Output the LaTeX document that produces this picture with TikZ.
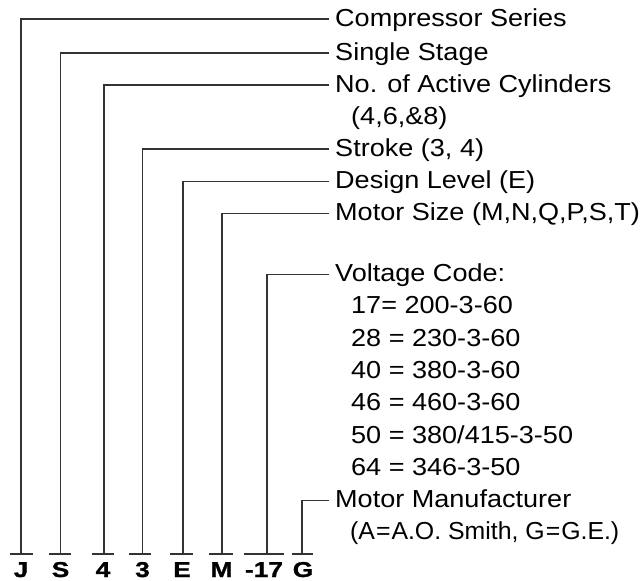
\documentclass[tikz,border=0pt]{standalone}
\usepackage{fontspec}
\setmainfont{Liberation Sans}
\newfontfamily\labfont{Liberation Sans}[FakeStretch=1.1]
\newfontfamily\narrowfont{Liberation Sans}[FakeStretch=1.01]
\newfontfamily\codefont{Liberation Sans Bold}[FakeStretch=1.22,FakeBold=1.2]
\begin{document}
\begin{tikzpicture}[x=1pt,y=-1pt,
  lab/.style={anchor=base west,inner xsep=6pt,inner ysep=0pt,font=\labfont\fontsize{24.6}{28}\selectfont},
  sub/.style={anchor=base west,inner sep=0pt,font=\labfont\fontsize{24.6}{28}\selectfont},
  subnarrow/.style={anchor=base west,inner sep=0pt,font=\narrowfont\fontsize{24.6}{28}\selectfont},
  code/.style={anchor=base,inner sep=0pt,font=\codefont\fontsize{21.5}{26}\selectfont},
  conn/.style={draw=black!80,line width=1.1pt},
  bar/.style={draw=black!80,line width=1.1pt}]
\useasboundingbox (0,0) rectangle (641,581);
% bottom code letters
\node[code] (cJ) at (21,577) {J};
\node[code] (cS) at (60.5,577) {S};
\node[code] (c4) at (103,577) {4};
\node[code] (c3) at (142.5,577) {3};
\node[code] (cE) at (182,577) {E};
\node[code] (cM) at (221.5,577) {M};
\node[code] (c17) at (264,577) {-17};
\node[code] (cG) at (303,577) {G};
% bar centres (connector ends)
\coordinate (bJ) at (21,554);
\coordinate (bS) at (60.5,554);
\coordinate (b4) at (104,554);
\coordinate (b3) at (142.5,554);
\coordinate (bE) at (183,554);
\coordinate (bM) at (222,554);
\coordinate (b17) at (267,554);
\coordinate (bG) at (302,554);
% bars
\draw[bar] (9.5,554) -- (33,554);
\draw[bar] (49,554) -- (71,554);
\draw[bar] (92,554) -- (114,554);
\draw[bar] (129,554) -- (151,554);
\draw[bar] (170,554) -- (193,554);
\draw[bar] (209,554) -- (233,554);
\draw[bar] (244,554) -- (284,554);
\draw[bar] (292,554) -- (313,554);
% labels
\node[lab] (lCS) at (329,26) {Compressor Series};
\node[lab] (lSS) at (329,60) {Single Stage};
\node[lab] (lNC) at (329,92) {No. of Active Cylinders};
\node[sub] (lNC2) at (351,124.3) {(4,6,\&8)};
\node[lab] (lST) at (329,156) {Stroke (3, 4)};
\node[lab] (lDL) at (329,188.5) {Design Level (E)};
\node[lab] (lMS) at (329,220.5) {Motor Size (M,N,Q,P,S,T)};
\node[lab] (lVC) at (329,281.5) {Voltage Code:};
\node[sub] (v1) at (351,313.8) {17= 200-3-60};
\node[sub] (v2) at (351,346.1) {28 = 230-3-60};
\node[sub] (v3) at (351,378.4) {40 = 380-3-60};
\node[sub] (v4) at (351,410.7) {46 = 460-3-60};
\node[sub] (v5) at (351,443) {50 = 380/415-3-50};
\node[sub] (v6) at (351,475.3) {64 = 346-3-50};
\node[lab] (lMM) at (329,507.5) {Motor Manufacturer};
\node[subnarrow] (lMM2) at (350,539.8) {(A\hspace{0.04em}=\hspace{0.04em}A.O. Smith, G\hspace{0.04em}=\hspace{0.04em}G.E.)};
% connectors
\draw[conn] ([yshift=7pt]lCS.base west) -| (bJ);
\draw[conn] ([yshift=7pt]lSS.base west) -| (bS);
\draw[conn] ([yshift=7pt]lNC.base west) -| (b4);
\draw[conn] ([yshift=7pt]lST.base west) -| (b3);
\draw[conn] ([yshift=7pt]lDL.base west) -| (bE);
\draw[conn] ([yshift=7pt]lMS.base west) -| (bM);
\draw[conn] ([yshift=7pt]lVC.base west) -| (b17);
\draw[conn] ([yshift=7pt]lMM.base west) -| (bG);
\end{tikzpicture}
\end{document}
